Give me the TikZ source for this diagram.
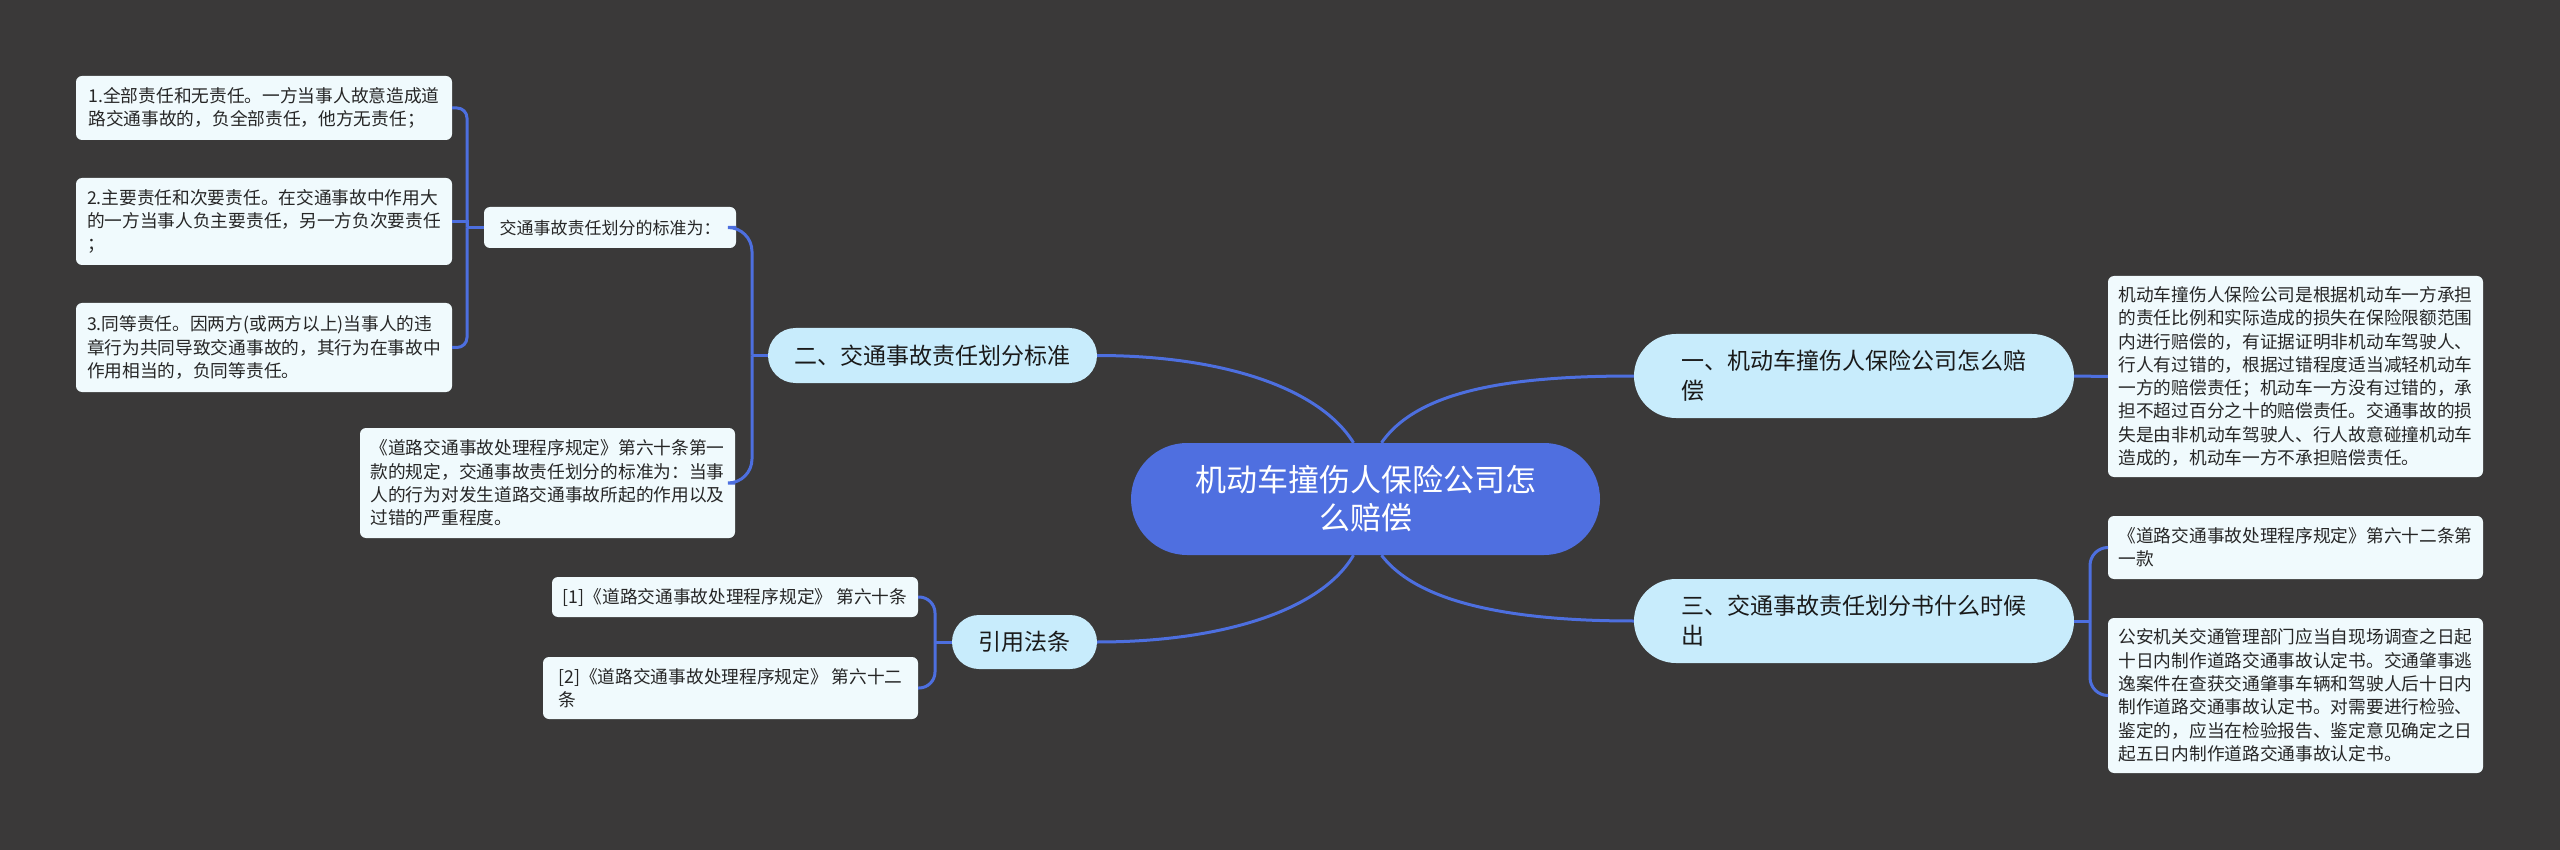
\documentclass[tikz,border=0pt]{standalone}
\usepackage{fontspec}
\setmainfont{Noto Sans CJK SC}
\definecolor{bg}{HTML}{3A3939}
\definecolor{linecol}{HTML}{4D6FDF}
\definecolor{rootfill}{HTML}{4F6FE0}
\definecolor{branchfill}{HTML}{C8ECFC}
\definecolor{leaffill}{HTML}{F0FAFD}
\definecolor{leaftext}{HTML}{262626}
\definecolor{branchtext}{HTML}{1A1A1A}
\tikzset{
  leaf/.style={fill=leaffill, rounded corners=6pt, align=left, inner sep=0pt, text=leaftext, font=\fontsize{17.7}{23.3}\selectfont},
  branch/.style={fill=branchfill, align=left, inner sep=0pt, text=branchtext, font=\fontsize{23}{30}\selectfont},
  rootnode/.style={fill=rootfill, align=center, inner sep=0pt, text=white, font=\fontsize{31}{38}\selectfont, rounded corners=56pt},
  conn/.style={draw=linecol, line width=3pt},
}
\begin{document}
\begin{tikzpicture}[x=1pt,y=-1pt]
\fill[bg] (0,0) rectangle (2560,850);
\useasboundingbox (0,0) rectangle (2560,850);

% root
\node[rootnode, minimum width=469, minimum height=112] (root) at (1365.5,499) {机动车撞伤人保险公司怎\\么赔偿};

% branches
\node[branch, rounded corners=27.5pt, minimum width=329, minimum height=55] (n2) at (932.5,355.5) {二、交通事故责任划分标准};
\node[branch, rounded corners=27pt, minimum width=145, minimum height=54] (n4) at (1024.5,642) {引用法条};
\node[branch, rounded corners=42pt, minimum width=440, minimum height=84] (n1) at (1854,376) {一、机动车撞伤人保险公司怎么赔\\偿};
\node[branch, rounded corners=42pt, minimum width=440, minimum height=84] (n3) at (1854,621) {三、交通事故责任划分书什么时候\\出};

% left subtree
\node[leaf, font=\fontsize{17}{22}\selectfont, minimum width=252, minimum height=41] (n2a) at (610,227.5) {交通事故责任划分的标准为：};
\node[leaf, minimum width=376, minimum height=64] (l1) at (264,108) {1.全部责任和无责任。一方当事人故意造成道\\路交通事故的，负全部责任，他方无责任；};
\node[leaf, minimum width=376, minimum height=87] (l2) at (264,221.5) {2.主要责任和次要责任。在交通事故中作用大\\的一方当事人负主要责任，另一方负次要责任\\；};
\node[leaf, minimum width=376, minimum height=89] (l3) at (264,347.5) {3.同等责任。因两方(或两方以上)当事人的违\\章行为共同导致交通事故的，其行为在事故中\\作用相当的，负同等责任。};
\node[leaf, minimum width=375, minimum height=110] (cit) at (547.5,483) {《道路交通事故处理程序规定》第六十条第一\\款的规定，交通事故责任划分的标准为：当事\\人的行为对发生道路交通事故所起的作用以及\\过错的严重程度。};

\node[leaf, minimum width=366, minimum height=40] (lc1) at (735,597) {[1]《道路交通事故处理程序规定》 第六十条};
\node[leaf, minimum width=375, minimum height=62] (lc2) at (730.5,688) {[2]《道路交通事故处理程序规定》 第六十二\\条};

% right subtree
\node[leaf, minimum width=375, minimum height=201] (r1) at (2295.5,376.5) {机动车撞伤人保险公司是根据机动车一方承担\\的责任比例和实际造成的损失在保险限额范围\\内进行赔偿的，有证据证明非机动车驾驶人、\\行人有过错的，根据过错程度适当减轻机动车\\一方的赔偿责任；机动车一方没有过错的，承\\担不超过百分之十的赔偿责任。交通事故的损\\失是由非机动车驾驶人、行人故意碰撞机动车\\造成的，机动车一方不承担赔偿责任。};
\node[leaf, minimum width=375, minimum height=63] (r2) at (2295.5,547.5) {《道路交通事故处理程序规定》第六十二条第\\一款};
\node[leaf, minimum width=375, minimum height=155] (r3) at (2295.5,695.5) {公安机关交通管理部门应当自现场调查之日起\\十日内制作道路交通事故认定书。交通肇事逃\\逸案件在查获交通肇事车辆和驾驶人后十日内\\制作道路交通事故认定书。对需要进行检验、\\鉴定的，应当在检验报告、鉴定意见确定之日\\起五日内制作道路交通事故认定书。};

% junction coordinates
\coordinate (b1) at (467,227.5);
\coordinate (b2) at (752,355.5);
\coordinate (b3) at (2090,621);
\coordinate (b4) at (935,642);

% root connectors
\draw[conn] ([xshift=-12pt]root.north) .. controls +(-34,-55) and +(125,0) .. (n2.east);
\draw[conn] ([xshift=16pt]root.north) .. controls +(38,-55) and +(-115,0) .. (n1.west);
\draw[conn] ([xshift=-12pt]root.south) .. controls +(-32,55) and +(125,0) .. (n4.east);
\draw[conn] ([xshift=16pt]root.south) .. controls +(38,50) and +(-115,0) .. (n3.west);

% right side
\draw[conn] (n1.east) -- (r1.west);
\draw[conn] (n3.east) -- (b3);
\draw[conn, rounded corners=18pt] (b3) |- (r2.west);
\draw[conn, rounded corners=18pt] (b3) |- (r3.west);

% branch 二
\draw[conn] (n2.west) -- (b2);
\draw[conn, rounded corners=24pt] (b2) |- (n2a.east);
\draw[conn, rounded corners=24pt] (b2) |- (cit.east);

% n2a bracket
\draw[conn] (n2a.west) -- (b1);
\draw[conn, rounded corners=10pt] (b1) |- (l1.east);
\draw[conn] (b1) |- (l2.east);
\draw[conn, rounded corners=10pt] (b1) |- (l3.east);

% 引用法条 bracket
\draw[conn] (n4.west) -- (b4);
\draw[conn, rounded corners=16pt] (b4) |- (lc1.east);
\draw[conn, rounded corners=16pt] (b4) |- (lc2.east);
\end{tikzpicture}
\end{document}
